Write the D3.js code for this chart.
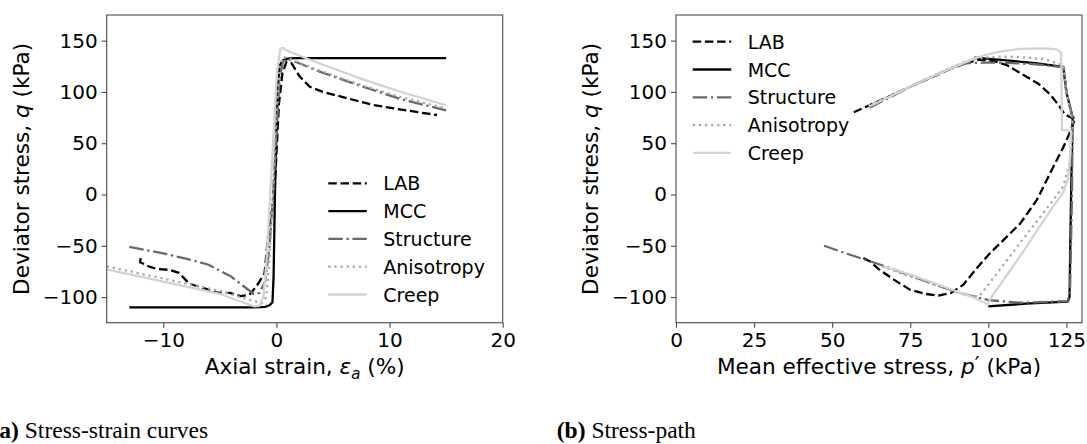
<!DOCTYPE html>
<html lang="en">
<head>
    <meta charset="UTF-8">
    <title>Stress-strain and stress-path</title>
    <script src="https://d3js.org/d3.v7.min.js"></script>
    <style>
        body { margin: 0; background: #ffffff; }
        svg { display: block; }
        .tick-label { font-family: 'DejaVu Sans', sans-serif; font-size: 20px; fill: #000; }
        .axis-label { font-family: 'DejaVu Sans', sans-serif; font-size: 21.6px; fill: #000; }
        .legend-label { font-family: 'DejaVu Sans', sans-serif; font-size: 19px; fill: #000; }
        .caption { font-family: 'Liberation Serif', 'Times New Roman', serif; font-size: 23.5px; fill: #000; }
    </style>
</head>
<body>
<div id="chart"></div>
<script>
    // series names, in drawing / legend order
    const seriesNames = ["LAB", "MCC", "Structure", "Anisotropy", "Creep"];

    // (a) axial strain (%) vs deviator stress q (kPa)
    const labStrain = [[-12, -62], [-12.05, -66], [-11.3, -70], [-10.6, -72.5], [-9.4, -73.6], [-8.6, -76.5], [-7.7, -87], [-6.5, -91], [-5.3, -95.5], [-4.1, -96], [-3.2, -99], [-2.4, -98], [-1.8, -90], [-1.05, -77], [-0.75, -42], [-0.5, -20], [-0.2, -8], [0, 40], [0.23, 89], [0.53, 118], [0.9, 129.5], [1.33, 128], [2.06, 115], [2.95, 105], [4.1, 100], [6.2, 94], [8.55, 87.3], [11.2, 82.4], [14.2, 77.5]];
    const mccStrain = [[-13, -110], [-2, -110], [-1, -109.5], [-0.6, -108], [-0.35, -105], [-0.25, -80], [-0.1, 20], [0.1, 100], [0.3, 126], [0.6, 131], [1, 132.5], [1.6, 133], [15, 133]];
    const structureStrain = [[-13, -51], [-10, -57.5], [-8, -62.5], [-6, -68.5], [-4, -80], [-2, -97], [-1.5, -96], [-1, -85], [-0.6, -50], [-0.3, 0], [0, 60], [0.3, 115], [0.6, 130], [1, 132], [2, 128], [4, 119], [7.7, 105], [11, 93], [15, 82]];
    const anisotropyStrain = [[-15, -70], [-10, -82], [-5, -94], [-2, -104], [-1.3, -106], [-0.9, -100], [-0.6, -60], [-0.3, 0], [0, 80], [0.3, 125], [0.6, 134], [1, 133], [2, 128.5], [5, 116], [8, 105], [11, 95], [15, 84]];
    const creepStrain = [[-15, -73], [-10, -85], [-5, -97], [-2, -109], [-1.5, -108.5], [-1.15, -100], [-0.85, -60], [-0.55, 0], [-0.25, 60], [0.05, 120], [0.35, 142], [0.55, 143], [1, 140], [2, 135.5], [4, 127], [7.7, 112], [11, 100], [15, 87]];

    // (b) mean effective stress p' (kPa) vs deviator stress q (kPa)
    const labPath = [[60, -62], [62, -65], [65, -73], [70, -83.5], [75, -93], [80, -97], [84, -98.5], [88, -96], [92, -88], [96, -73], [100.6, -57], [105, -44], [110.3, -28], [115.6, -5], [120, 22], [124, 46], [126.5, 63], [127.5, 72], [127.8, 75], [126.5, 75], [124.5, 78], [123, 85], [120, 97], [116, 108], [111, 117], [106, 126], [102, 130], [97, 131.5], [90, 125.5], [85, 118.5], [75, 105], [65, 91], [56, 79]];
    const mccPath = [[100, -109], [112, -106.5], [125.5, -104.5], [126, -100], [126.5, 0], [127, 75], [125, 100], [124, 124.5], [115, 128], [105, 131], [95.5, 133.4]];
    const structurePath = [[47.4, -50], [55, -58], [65, -68], [75, -79], [85, -90], [92, -97], [100, -103], [110, -105.5], [125.5, -104], [126.2, -90], [126.8, 0], [127, 74], [125, 100], [124.2, 124], [115, 127], [105, 128.5], [98, 128.5], [93, 128], [85, 119], [75, 105], [61, 83]];
    const anisotropyPath = [[66, -70], [75, -80], [85, -90], [93, -98], [97, -99.6], [100, -88], [110, -48], [120, -8.6], [124, 8], [126, 30], [127, 70], [125, 100], [124, 126], [118, 132], [110, 134], [103, 134.5], [98, 133], [93, 130], [85, 119.5], [75, 105.5], [61, 86]];
    const creepPath = [[66.5, -70], [75, -78], [85, -89], [95, -100], [99.8, -107], [101, -100], [110, -61], [120, -15], [124, 2], [125.5, 15], [126.3, 40], [126.5, 62], [123.6, 63], [123.5, 90], [123.4, 120], [123.3, 138], [122, 141.5], [118, 142.5], [110, 142], [104, 139.5], [99, 136], [95, 132], [85, 119], [75, 105], [62, 86]];

    // tick values
    const strainTicks = [-10, 0, 10, 20];
    const pTicks = [0, 25, 50, 75, 100, 125];
    const qTicks = [-100, -50, 0, 50, 100, 150];

    // line styles (matplotlib-ish greys)
    const styles = {
        LAB:        { color: "#000000", dash: "8.5,3.7" },
        MCC:        { color: "#000000", dash: null },
        Structure:  { color: "#696969", dash: "14.5,3.7,2.3,3.7" },
        Anisotropy: { color: "#a9a9a9", dash: "2.3,3.8" },
        Creep:      { color: "#d3d3d3", dash: null }
    };
    const lineWidth = 2.3;

    const svg = d3.select("#chart").append("svg")
        .attr("width", 1087)
        .attr("height", 444);

    function drawPanel(cfg) {
        const x = d3.scaleLinear().domain(cfg.xDomain).range([cfg.left, cfg.right]);
        const y = d3.scaleLinear().domain([-125, 175]).range([cfg.bottom, cfg.top]);
        const g = svg.append("g");

        g.append("clipPath").attr("id", cfg.id + "-clip")
            .append("rect")
            .attr("x", cfg.left).attr("y", cfg.top)
            .attr("width", cfg.right - cfg.left).attr("height", cfg.bottom - cfg.top);

        const line = d3.line().x(d => x(d[0])).y(d => y(d[1]));
        const plot = g.append("g").attr("clip-path", `url(#${cfg.id}-clip)`);
        seriesNames.forEach((name, i) => {
            const st = styles[name];
            plot.append("path")
                .datum(cfg.series[i])
                .attr("d", line)
                .attr("fill", "none")
                .attr("stroke", st.color)
                .attr("stroke-width", lineWidth)
                .attr("stroke-dasharray", st.dash)
                .attr("stroke-linejoin", "round");
        });

        // frame
        g.append("rect")
            .attr("x", cfg.left).attr("y", cfg.top)
            .attr("width", cfg.right - cfg.left).attr("height", cfg.bottom - cfg.top)
            .attr("fill", "none").attr("stroke", "#4a4a4a").attr("stroke-width", 1.1);

        // x axis
        const xa = g.append("g").attr("transform", `translate(0,${cfg.bottom})`)
            .call(d3.axisBottom(x).tickValues(cfg.xTicks).tickSize(5).tickPadding(5).tickFormat(d3.format("d")));
        xa.select(".domain").remove();
        xa.selectAll("line").attr("stroke", "#4a4a4a").attr("stroke-width", 1.1);
        xa.selectAll("text").attr("class", "tick-label").attr("dy", "0.71em").attr("fill", null);

        // y axis
        const ya = g.append("g").attr("transform", `translate(${cfg.left},0)`)
            .call(d3.axisLeft(y).tickValues(qTicks).tickSize(5).tickPadding(4).tickFormat(d3.format("d")));
        ya.select(".domain").remove();
        ya.selectAll("line").attr("stroke", "#4a4a4a").attr("stroke-width", 1.1);
        ya.selectAll("text").attr("class", "tick-label").attr("fill", null);

        // y label
        const yl = g.append("text").attr("class", "axis-label")
            .attr("text-anchor", "middle")
            .attr("transform", `translate(${cfg.yLabelX},${(cfg.top + cfg.bottom) / 2}) rotate(-90)`);
        yl.append("tspan").text("Deviator stress, ");
        yl.append("tspan").attr("font-style", "italic").text("q");
        yl.append("tspan").text(" (kPa)");

        // x label
        const xl = g.append("text").attr("class", "axis-label")
            .attr("text-anchor", "middle")
            .attr("x", (cfg.left + cfg.right) / 2).attr("y", 374);
        cfg.xLabel(xl);

        // legend
        const lg = g.append("g");
        seriesNames.forEach((name, i) => {
            const st = styles[name];
            const cy = cfg.legendTop + i * 27.8;
            lg.append("line")
                .attr("x1", cfg.legendX).attr("x2", cfg.legendX + 38.5)
                .attr("y1", cy).attr("y2", cy)
                .attr("stroke", st.color).attr("stroke-width", lineWidth)
                .attr("stroke-dasharray", st.dash);
            lg.append("text").attr("class", "legend-label")
                .attr("x", cfg.legendX + 55).attr("y", cy + 7)
                .text(name);
        });

        // caption
        const cap = svg.append("text").attr("class", "caption")
            .attr("x", cfg.captionX).attr("y", 438);
        cap.append("tspan").attr("font-weight", "bold").text(cfg.captionTag);
        cap.append("tspan").text(" " + cfg.caption);
    }

    drawPanel({
        id: "a", left: 106.7, right: 502.7, top: 15, bottom: 322.7,
        xDomain: [-15, 20], xTicks: strainTicks,
        series: [labStrain, mccStrain, structureStrain, anisotropyStrain, creepStrain],
        yLabelX: 28.6,
        xLabel: t => {
            t.append("tspan").text("Axial strain, ");
            t.append("tspan").attr("font-style", "italic").text("ε");
            t.append("tspan").attr("font-style", "italic").attr("font-size", "15px").attr("dy", 4.5).text("a");
            t.append("tspan").attr("dy", -4.5).text(" (%)");
        },
        legendX: 328.3, legendTop: 183.3,
        captionX: -8.5, captionTag: "(a)", caption: "Stress-strain curves"
    });

    drawPanel({
        id: "b", left: 676, right: 1082, top: 15, bottom: 322.7,
        xDomain: [0, 130], xTicks: pTicks,
        series: [labPath, mccPath, structurePath, anisotropyPath, creepPath],
        yLabelX: 598.3,
        xLabel: t => {
            t.append("tspan").text("Mean effective stress, ");
            t.append("tspan").attr("font-style", "italic").text("p");
            t.append("tspan").attr("dy", -2).text("′");
            t.append("tspan").attr("dy", 2).text(" (kPa)");
        },
        legendX: 692.7, legendTop: 41.7,
        captionX: 556.8, captionTag: "(b)", caption: "Stress-path"
    });
</script>
</body>
</html>
